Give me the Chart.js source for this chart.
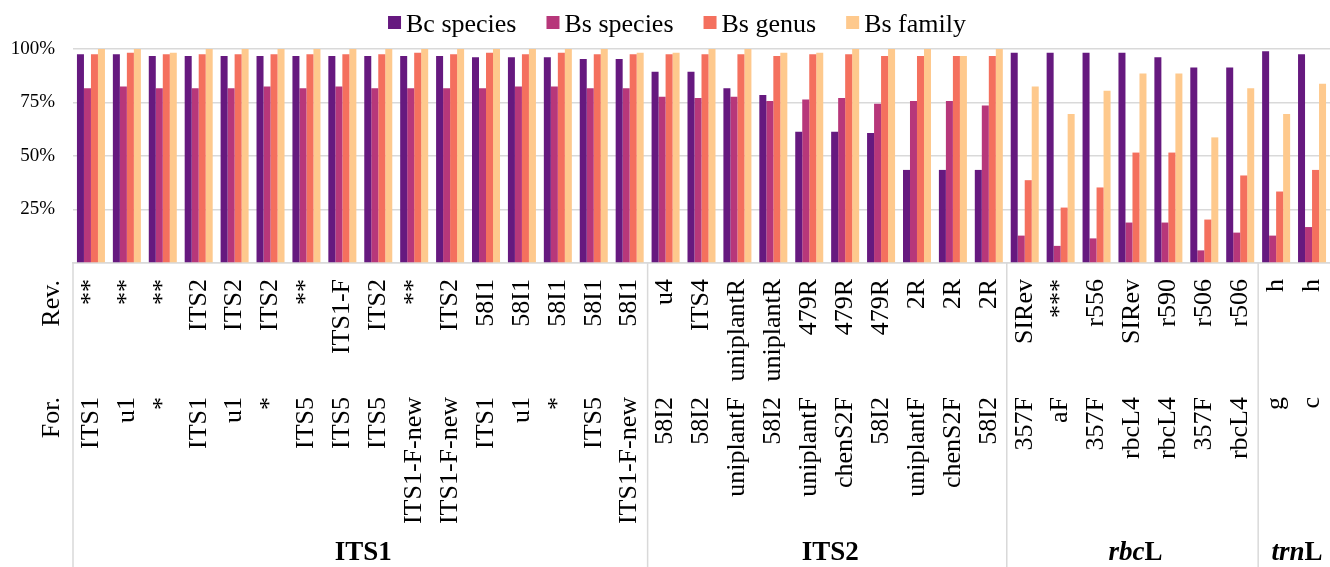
<!DOCTYPE html>
<html>
<head>
<meta charset="utf-8">
<script src="https://cdn.jsdelivr.net/npm/chart.js@4/dist/chart.umd.min.js"></script>
<style>
  html, body { margin: 0; padding: 0; background: #fff; }
</style>
</head>
<body>
<canvas id="primer_chart" width="1330" height="567"></canvas>
<script>
// primer pairs, one per group of bars
const revPrimers = ["**", "**", "**", "ITS2", "ITS2", "ITS2", "**", "ITS1-F", "ITS2", "**", "ITS2", "58I1", "58I1", "58I1", "58I1", "58I1",
    "u4", "ITS4", "uniplantR", "uniplantR", "479R", "479R", "479R", "2R", "2R", "2R",
    "SIRev", "***", "r556", "SIRev", "r590", "r506", "r506",
    "h", "h"];
const forPrimers = ["ITS1", "u1", "*", "ITS1", "u1", "*", "ITS5", "ITS5", "ITS5", "ITS1-F-new", "ITS1-F-new", "ITS1", "u1", "*", "ITS5", "ITS1-F-new",
    "58I2", "58I2", "uniplantF", "58I2", "uniplantF", "chenS2F", "58I2", "uniplantF", "chenS2F", "58I2",
    "357F", "aF", "357F", "rbcL4", "rbcL4", "357F", "rbcL4",
    "g", "c"];

// marker regions (name, italic prefix length, number of groups)
const regionNames = ["ITS1", "ITS2", "rbcL", "trnL"];
const regionItalic = [0, 0, 3, 3];
const regionSizes = [16, 10, 7, 2];

const seriesNames = ["Bc species", "Bs species", "Bs genus", "Bs family"];

const bcSpecies = [97.5, 97.5, 96.7, 96.7, 96.7, 96.7, 96.7, 96.7, 96.7, 96.7, 96.7, 96.1, 96.1, 96.1, 95.3, 95.3,
    89.4, 89.4, 81.7, 78.5, 61.3, 61.3, 60.7, 43.5, 43.5, 43.5,
    98.3, 98.3, 98.3, 98.3, 96.1, 91.4, 91.4,
    98.9, 97.5];
const bsSpecies = [81.7, 82.5, 81.7, 81.7, 81.7, 82.5, 81.7, 82.5, 81.7, 81.7, 81.7, 81.7, 82.5, 82.5, 81.7, 81.7,
    77.7, 77.1, 77.7, 75.7, 76.4, 77.1, 74.4, 75.7, 75.7, 73.6,
    12.8, 8.0, 11.5, 18.9, 18.9, 5.9, 14.2,
    12.8, 16.8];
const bsGenus = [97.5, 98.3, 97.5, 97.5, 97.5, 97.5, 97.5, 97.5, 97.5, 98.3, 97.5, 98.3, 97.5, 98.3, 97.5, 97.5,
    97.5, 97.5, 97.5, 96.7, 97.5, 97.5, 96.7, 96.7, 96.7, 96.7,
    38.7, 25.9, 35.3, 51.6, 51.6, 20.3, 40.9,
    33.4, 43.5];
const bsFamily = [100, 100, 98.3, 100, 100, 100, 100, 100, 100, 100, 100, 100, 100, 100, 100, 98.3,
    98.3, 100, 100, 98.3, 98.3, 100, 100, 100, 96.7, 100,
    82.5, 69.6, 80.5, 88.6, 88.6, 58.7, 81.7,
    69.6, 83.8];

const yTicks = [25, 50, 75, 100];

const colors = ["#66197f", "#b7377a", "#f4705e", "#fec98d"];
const serif = '"Liberation Serif", "Times New Roman", serif';

// legend, primer rows, region names and separators
const primerLabels = {
    id: "primerLabels",
    afterDraw(chart) {
        const { ctx, chartArea } = chart;
        const x = chart.scales.x;
        const step = x.width / revPrimers.length;
        ctx.save();

        // legend
        ctx.font = "26px " + serif;
        ctx.textAlign = "left";
        ctx.textBaseline = "alphabetic";
        const items = chart.data.datasets.map(function (ds) {
            return { label: ds.label, color: ds.backgroundColor, w: 18 + ctx.measureText(ds.label).width };
        });
        const total = items.reduce((s, it) => s + it.w, 0) + 30 * (items.length - 1);
        let lx = 677 - total / 2;
        items.forEach(function (it) {
            ctx.fillStyle = it.color;
            ctx.fillRect(lx, 16, 13, 13);
            ctx.fillStyle = "#000";
            ctx.fillText(it.label, lx + 18, 32);
            lx += it.w + 30;
        });

        // rotated primer names
        const rotText = function (t, px, py) {
            ctx.save();
            ctx.translate(px, py);
            ctx.rotate(-Math.PI / 2);
            ctx.fillText(t, 0, 0);
            ctx.restore();
        };
        ctx.font = "26px " + serif;
        ctx.textAlign = "right";
        ctx.textBaseline = "middle";
        revPrimers.forEach((t, i) => rotText(t, x.getPixelForValue(i), 279));
        forPrimers.forEach((t, i) => rotText(t, x.getPixelForValue(i), 397));
        rotText("Rev.", 52, 280);
        rotText("For.", 52, 397);

        // regions
        ctx.strokeStyle = "#d9d9d9";
        ctx.lineWidth = 1.5;
        ctx.textAlign = "left";
        ctx.textBaseline = "alphabetic";
        let first = 0;
        regionNames.forEach(function (name, r) {
            const last = first + regionSizes[r] - 1;
            const left = x.getPixelForValue(first) - step / 2;
            const center = (x.getPixelForValue(first) + x.getPixelForValue(last)) / 2;
            ctx.beginPath();
            ctx.moveTo(left, chartArea.bottom);
            ctx.lineTo(left, chart.height);
            ctx.stroke();

            const ital = name.slice(0, regionItalic[r]);
            const rest = name.slice(regionItalic[r]);
            ctx.font = "italic bold 27px " + serif;
            const wi = ctx.measureText(ital).width;
            ctx.font = "bold 27px " + serif;
            const wr = ctx.measureText(rest).width;
            const tx = center - (wi + wr) / 2 + 3;
            ctx.fillStyle = "#000";
            ctx.font = "italic bold 27px " + serif;
            ctx.fillText(ital, tx, 560);
            ctx.font = "bold 27px " + serif;
            ctx.fillText(rest, tx + wi, 560);
            first = last + 1;
        });
        ctx.restore();
    },
};

const seriesData = [bcSpecies, bsSpecies, bsGenus, bsFamily];

new Chart(document.getElementById("primer_chart"), {
    type: "bar",
    data: {
        labels: forPrimers.map((f, i) => f + " / " + revPrimers[i]),
        datasets: seriesNames.map((name, k) => ({
            label: name,
            data: seriesData[k],
            backgroundColor: colors[k],
            borderWidth: 0,
            categoryPercentage: 0.78,
            barPercentage: 1,
        })),
    },
    options: {
        responsive: false,
        animation: false,
        layout: { padding: { top: 49, left: 0, right: 0, bottom: 0 } },
        plugins: {
            legend: { display: false },
            tooltip: { enabled: false },
        },
        scales: {
            x: {
                ticks: { display: false },
                grid: { display: false },
                border: { display: true, color: "#d9d9d9", width: 1.5 },
                afterFit(scale) {
                    scale.height = 304;
                },
            },
            y: {
                min: 0,
                max: 100,
                afterFit(scale) {
                    scale.width = 73;
                },
                afterBuildTicks(scale) {
                    scale.ticks = [0].concat(yTicks).map((v) => ({ value: v }));
                },
                ticks: {
                    padding: 18,
                    color: "#000",
                    font: { family: serif, size: 19 },
                    callback: (v) => (v === 0 ? "" : v + "%"),
                },
                grid: { color: "#d9d9d9", lineWidth: 1.5, drawTicks: false },
                border: { display: false },
            },
        },
    },
    plugins: [primerLabels],
});
</script>
</body>
</html>
